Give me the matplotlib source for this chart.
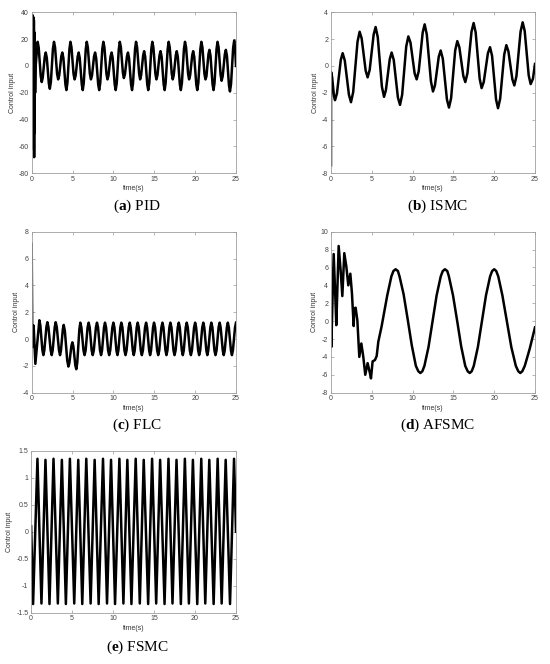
import matplotlib.pyplot as plt

plt.rcParams['font.family'] = ['Liberation Sans', 'DejaVu Sans']
plt.rcParams['axes.unicode_minus'] = False
plt.rcParams['mathtext.fontset'] = 'custom'
plt.rcParams['mathtext.rm'] = 'Liberation Serif'
plt.rcParams['mathtext.bf'] = 'Liberation Serif:bold'

# (a) PID (start spike, then peaks/troughs with shoulders)
pid_t = [0, 0.03, 0.06, 0.09, 0.12, 0.15, 0.18, 0.21, 0.24, 0.27, 0.30,
         0.33, 0.36, 0.39, 0.42, 0.46,
         0.73, 0.86, 1.11, 1.23, 1.35, 1.60, 1.72, 1.85, 2.10,
         2.22, 2.35, 2.60, 2.73, 2.86, 3.11, 3.24, 3.37, 3.62,
         3.75, 3.88, 4.13, 4.25, 4.37, 4.62, 4.74, 4.87, 5.12,
         5.25, 5.38, 5.63, 5.75, 5.88, 6.13, 6.25, 6.37, 6.62,
         6.74, 6.87, 7.12, 7.25, 7.38, 7.63, 7.76, 7.89, 8.14,
         8.26, 8.39, 8.64, 8.77, 8.90, 9.15, 9.27, 9.40, 9.65,
         9.78, 9.91, 10.16, 10.28, 10.41, 10.66, 10.78, 10.91, 11.16,
         11.28, 11.41, 11.66, 11.78, 11.91, 12.16, 12.28, 12.40, 12.65,
         12.77, 12.90, 13.15, 13.27, 13.39, 13.64, 13.76, 13.89, 14.14,
         14.26, 14.39, 14.64, 14.76, 14.89, 15.14, 15.26, 15.39, 15.64,
         15.77, 15.90, 16.15, 16.27, 16.39, 16.64, 16.76, 16.89, 17.14,
         17.26, 17.38, 17.63, 17.75, 17.88, 18.13, 18.25, 18.38, 18.63,
         18.76, 18.89, 19.14, 19.26, 19.39, 19.64, 19.76, 19.89, 20.14,
         20.26, 20.39, 20.64, 20.76, 20.89, 21.14, 21.26, 21.38, 21.63,
         21.75, 21.88, 22.13, 22.25, 22.37, 22.62, 22.74, 22.87, 23.12,
         23.24, 23.37, 23.63, 23.76, 23.89, 24.14, 24.26, 24.39, 24.65,
         24.78, 24.89, 25.0]
pid_u = [0, 36, -40, 38, -48, 37, -55, 36, -62, 34, -68,
         25, -50, 12, -20, -2,
         18, 13.6, -7.6, -12, -8.8, 6.8, 10, 6.1, -13.1,
         -17, -11.9, 12.9, 18, 13.9, -5.9, -10, -7.1, 7.1,
         10, 5.9, -13.9, -18, -12.7, 12.7, 18, 13.9, -5.9,
         -10, -7.1, 7.1, 10, 5.9, -13.9, -18, -12.7, 12.7,
         18, 13.9, -5.9, -10, -7.1, 7.1, 10, 5.9, -13.9,
         -18, -12.7, 12.7, 18, 13.9, -5.9, -10, -7.1, 7.1,
         10, 5.9, -13.9, -18, -12.7, 12.7, 18, 14.1, -5.1,
         -9, -6.2, 7.2, 10, 5.9, -13.9, -18, -12.7, 12.7,
         18, 13.9, -5.9, -10, -6.9, 7.9, 11, 6.8, -13.8,
         -18, -12.7, 12.7, 18, 13.9, -5.9, -10, -6.9, 7.9,
         11, 6.8, -13.8, -18, -12.7, 12.7, 18, 13.9, -5.9,
         -10, -6.9, 7.9, 11, 6.8, -13.8, -18, -12.7, 12.7,
         18, 13.9, -5.9, -10, -6.9, 7.9, 11, 6.8, -13.8,
         -18, -12.7, 12.7, 18, 13.9, -5.9, -10, -7.8, 8.8,
         12, 7.6, -13.6, -18, -12.7, 12.7, 18, 13.8, -6.8,
         -11, -7.6, 8.6, 12, 7.5, -14.5, -19, -13.5, 13.5,
         19, 13.4, 0]

# (b) ISMC
ismc_t = [0, 0.01, 0.13, 0.37, 0.49, 0.73, 1.2, 1.43, 1.69, 2.2, 2.45,
          2.72, 3.25, 3.51, 3.76, 4.25, 4.49, 4.74, 5.23, 5.47, 5.73,
          6.24, 6.5, 6.73, 7.2, 7.43, 7.69, 8.2, 8.46, 8.72, 9.22, 9.48,
          9.74, 10.25, 10.5, 10.75, 11.24, 11.48, 11.74, 12.25, 12.5,
          12.74, 13.21, 13.44, 13.7, 14.21, 14.46, 14.72, 15.22, 15.48,
          15.73, 16.22, 16.46, 16.72, 17.22, 17.48, 17.73, 18.22, 18.46,
          18.72, 19.23, 19.49, 19.74, 20.23, 20.47, 20.73, 21.23, 21.49,
          21.74, 22.23, 22.47, 22.73, 23.23, 23.49, 23.74, 24.23, 24.47,
          24.75, 25.0]
ismc_u = [-7.4, -0.45, -0.8, -2.25, -2.55, -2.05, 0.45, 0.95, 0.4, -2.15,
          -2.7, -1.95, 1.8, 2.55, 2.05, -0.35, -0.85, -0.3, 2.35, 2.9,
          2.15, -1.55, -2.3, -1.8, 0.5, 1.0, 0.45, -2.35, -2.9, -2.15,
          1.45, 2.2, 1.75, -0.55, -1.0, -0.4, 2.5, 3.1, 2.35, -1.15,
          -1.9, -1.45, 0.7, 1.15, 0.55, -2.5, -3.1, -2.4, 1.15, 1.85,
          1.4, -0.75, -1.2, -0.55, 2.55, 3.2, 2.5, -0.95, -1.65, -1.2,
          0.95, 1.4, 0.75, -2.5, -3.15, -2.45, 0.85, 1.55, 1.1, -1.0,
          -1.45, -0.75, 2.55, 3.25, 2.6, -0.7, -1.35, -0.95, 0.15]

# (c) FLC
flc_t = [0, 0.06, 0.14, 0.24, 0.45, 0.62,
         0.94, 1.06, 1.31, 1.43, 1.55, 1.80,
         1.92, 2.05, 2.32, 2.45, 2.57, 2.82,
         2.94, 3.07, 3.34, 3.47, 3.58, 3.81,
         3.92, 4.06, 4.35, 4.49, 4.61, 4.86,
         4.98, 5.10, 5.34, 5.46, 5.58, 5.83,
         5.95, 6.08, 6.34, 6.47, 6.60, 6.84,
         6.97, 7.10, 7.34, 7.47, 7.60, 7.86,
         7.99, 8.12, 8.36, 8.49, 8.61, 8.85,
         8.97, 9.10, 9.35, 9.48, 9.61, 9.87,
         10.0, 10.12, 10.37, 10.49, 10.61, 10.85,
         10.97, 11.10, 11.35, 11.48, 11.61, 11.87,
         12.0, 12.12, 12.37, 12.49, 12.61, 12.85,
         12.97, 13.10, 13.35, 13.48, 13.61, 13.87,
         14.0, 14.12, 14.37, 14.49, 14.61, 14.85,
         14.97, 15.10, 15.35, 15.48, 15.61, 15.87,
         16.0, 16.12, 16.37, 16.49, 16.61, 16.85,
         16.97, 17.10, 17.35, 17.48, 17.61, 17.87,
         18.0, 18.12, 18.37, 18.49, 18.61, 18.85,
         18.97, 19.10, 19.35, 19.48, 19.61, 19.87,
         20.0, 20.12, 20.37, 20.49, 20.62, 20.87,
         21.0, 21.12, 21.37, 21.49, 21.61, 21.86,
         21.98, 22.11, 22.36, 22.49, 22.62, 22.87,
         23.0, 23.12, 23.38, 23.5, 23.62, 23.88,
         24.0, 24.12, 24.38, 24.5, 24.62, 24.88,
         25.0]
flc_u = [7.1, 1.2, -0.6, 1.0, -1.85, -0.7,
         1.4, 1.02, -0.82, -1.2, -0.84, 0.89,
         1.25, 0.89, -0.84, -1.2, -0.84, 0.89,
         1.25, 0.89, -0.84, -1.2, -0.87, 0.72,
         1.05, 0.6, -1.6, -2.05, -1.79, -0.51,
         -0.25, -0.54, -1.96, -2.25, -1.75, 0.7,
         1.22, 0.87, -0.85, -1.2, -0.85, 0.87,
         1.22, 0.87, -0.85, -1.2, -0.85, 0.87,
         1.22, 0.87, -0.85, -1.2, -0.85, 0.87,
         1.22, 0.87, -0.85, -1.2, -0.85, 0.87,
         1.22, 0.87, -0.85, -1.2, -0.85, 0.87,
         1.22, 0.87, -0.85, -1.2, -0.85, 0.87,
         1.22, 0.87, -0.85, -1.2, -0.85, 0.87,
         1.22, 0.87, -0.85, -1.2, -0.85, 0.87,
         1.22, 0.87, -0.85, -1.2, -0.85, 0.87,
         1.22, 0.87, -0.85, -1.2, -0.85, 0.87,
         1.22, 0.87, -0.85, -1.2, -0.85, 0.87,
         1.22, 0.87, -0.85, -1.2, -0.85, 0.87,
         1.22, 0.87, -0.85, -1.2, -0.85, 0.87,
         1.22, 0.87, -0.85, -1.2, -0.85, 0.87,
         1.22, 0.87, -0.85, -1.2, -0.85, 0.87,
         1.22, 0.87, -0.85, -1.2, -0.85, 0.87,
         1.22, 0.87, -0.85, -1.2, -0.85, 0.87,
         1.22, 0.87, -0.85, -1.2, -0.85, 0.87,
         1.22, 0.87, -0.85, -1.2, -0.85, 0.87,
         1.22]

# (d) AFSMC
afsmc_t = [0, 0.04, 0.33, 0.53, 0.65, 0.94, 1.18, 1.39, 1.63, 1.88, 2.12,
           2.37, 2.57, 2.78, 2.86, 3.02, 3.23, 3.47, 3.72, 3.96, 4.2,
           4.49, 4.78, 4.9, 5.1, 5.39, 5.6, 5.8, 6.2,
           6.9, 7.4, 7.65, 7.92, 8.2, 8.4, 8.9, 9.4, 9.9, 10.4, 10.7,
           10.95, 11.2, 11.45, 11.95, 12.45, 12.95, 13.45, 13.7, 13.97,
           14.25, 14.45, 14.95, 15.45, 15.95, 16.45, 16.75, 17.0, 17.25,
           17.5, 18.0, 18.5, 19.0, 19.5, 19.75, 20.0, 20.25, 20.5, 21.0,
           21.55, 22.1, 22.65, 22.95, 23.2, 23.45, 23.75, 24.35, 25.0]
afsmc_u = [1.4, -2.9, 7.5, 2.7, -0.45, 8.4, 5.7, 2.8, 7.6, 6.1, 4.0,
           5.3, 3.1, -0.55, 1.4, 1.5, 0.1, -4.0, -2.5, -4.0, -6.0,
           -4.7, -5.85, -6.4, -4.5, -4.35, -3.9, -2.3, -0.6,
           2.9, 5.0, 5.6, 5.8, 5.6, 5.0, 3.0, 0.2, -2.7, -5.0, -5.6,
           -5.8, -5.6, -5.0, -2.9, 0.0, 2.9, 5.0, 5.6, 5.8,
           5.6, 5.0, 2.9, 0.1, -2.8, -5.0, -5.6, -5.8, -5.6,
           -5.0, -2.9, 0.0, 2.9, 5.0, 5.6, 5.8, 5.6, 5.0, 2.9,
           0.0, -2.9, -5.0, -5.6, -5.8, -5.6, -5.0, -3.1, -0.7]

# (e) FSMC
fsmc_t = [0, 0.24, 0.77, 1.26, 1.75, 2.24, 2.73, 3.26, 3.75, 4.24, 4.73,
          5.26, 5.75, 6.24, 6.73, 7.26, 7.75, 8.24, 8.77, 9.26, 9.75,
          10.24, 10.77, 11.26, 11.74, 12.24, 12.76, 13.26, 13.74, 14.28,
          14.76, 15.26, 15.74, 16.28, 16.76, 17.25, 17.74, 18.27, 18.76,
          19.25, 19.74, 20.27, 20.76, 21.25, 21.74, 22.27, 22.76, 23.25,
          23.74, 24.27, 24.76, 25.0]
fsmc_u = [0.1, -1.34, 1.35, -1.33, 1.33, -1.34, 1.35, -1.33, 1.33, -1.34,
          1.35, -1.33, 1.33, -1.34, 1.35, -1.33, 1.33, -1.34, 1.35, -1.33,
          1.33, -1.34, 1.35, -1.33, 1.33, -1.34, 1.35, -1.33, 1.33, -1.34,
          1.35, -1.33, 1.33, -1.34, 1.35, -1.33, 1.33, -1.34, 1.35, -1.33,
          1.33, -1.34, 1.35, -1.33, 1.33, -1.34, 1.35, -1.33, 1.33, -1.34,
          1.35, 0.0]

x_ticks = [0, 5, 10, 15, 20, 25]

panels = [
    (pid_t, pid_u, (-80, 40), [-80, -60, -40, -20, 0, 20, 40], 'a', 'PID',
     [0.0576, 0.739, 0.3715, 0.2425], (0.249, 0.690)),
    (ismc_t, ismc_u, (-8, 4), [-8, -6, -4, -2, 0, 2, 4], 'b', 'ISMC',
     [0.6018, 0.739, 0.3709, 0.2425], (0.796, 0.690)),
    (flc_t, flc_u, (-4, 8), [-4, -2, 0, 2, 4, 6, 8], 'c', 'FLC',
     [0.0576, 0.4086, 0.3715, 0.2425], (0.249, 0.360)),
    (afsmc_t, afsmc_u, (-8, 10), [-8, -6, -4, -2, 0, 2, 4, 6, 8, 10], 'd', 'AFSMC',
     [0.6018, 0.4086, 0.3709, 0.2425], (0.795, 0.360)),
    (fsmc_t, fsmc_u, (-1.5, 1.5), [-1.5, -1, -0.5, 0, 0.5, 1, 1.5], 'e', 'FSMC',
     [0.0566, 0.0773, 0.3725, 0.2440], (0.249, 0.0256)),
]

fig = plt.figure(figsize=(5.5, 6.64), dpi=100)

for t, u, ylim, yticks, tag, name, rect, cap in panels:
    ax = fig.add_axes(rect)
    ax.plot(t, u, color='black', lw=1.8, solid_joinstyle='round')
    ax.set_xlim(0, 25)
    ax.set_ylim(*ylim)
    ax.set_xticks(x_ticks)
    ax.set_yticks(yticks)
    ax.set_yticklabels([f'{v:g}' for v in yticks])
    ax.tick_params(direction='in', length=2, width=0.5, colors='#999999',
                   labelcolor='#444444', labelsize=5, pad=2,
                   top=True, right=True)
    for s in ax.spines.values():
        s.set_color('#a0a0a0')
        s.set_linewidth(0.6)
    ax.set_xlabel('time(s)', fontsize=5, color='#333333', labelpad=1.5)
    ax.set_ylabel('Control input', fontsize=5, color='#333333', labelpad=2)
    fig.text(cap[0], cap[1], r'($\mathbf{' + tag + r'}$) ' + name,
             family='Liberation Serif', fontsize=11,
             ha='center', va='center')

fig.savefig('out.png', dpi=100)
